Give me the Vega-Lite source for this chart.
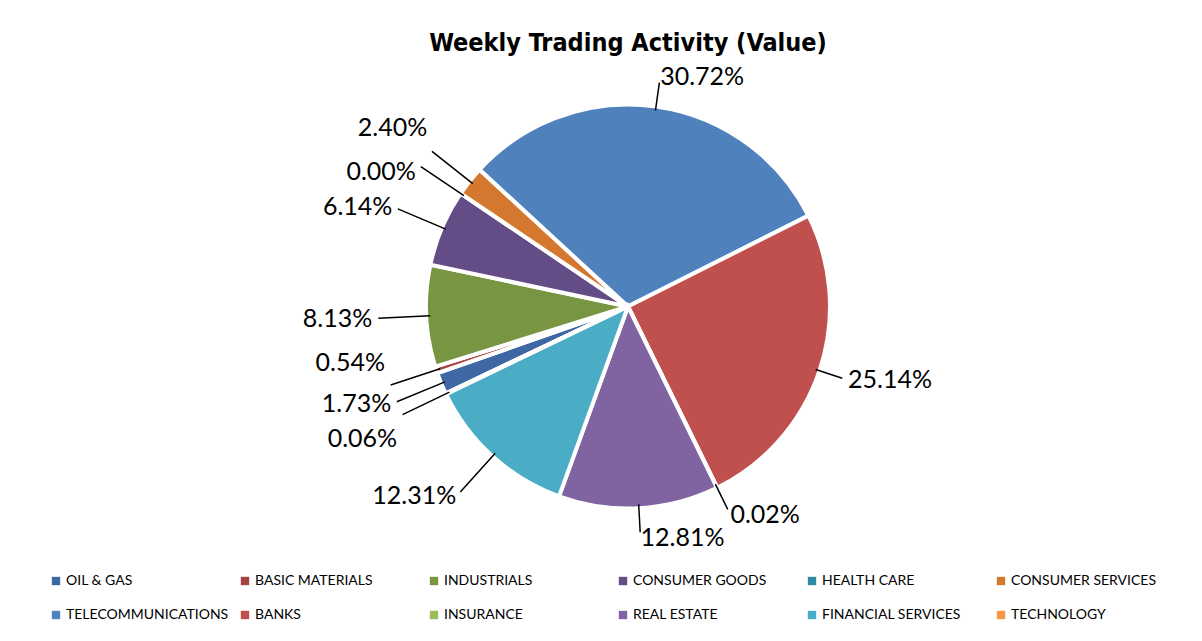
{
  "$schema": "https://vega.github.io/schema/vega-lite/v6.json",
  "width": 1202,
  "height": 641,
  "autosize": {"type": "fit", "contains": "padding"},
  "padding": {"top": 31, "left": 49, "right": -5, "bottom": 19},
  "background": "white",
  "title": {
    "text": "Weekly Trading Activity (Value)",
    "font": "DejaVu Sans Condensed, Liberation Sans, sans-serif",
    "fontSize": 25,
    "fontWeight": "bold",
    "color": "#000000",
    "anchor": "middle",
    "offset": 1
  },
  "data": {
    "values": [
      {"idx": 1, "sector": "OIL & GAS", "share": 0.0173},
      {"idx": 2, "sector": "BASIC MATERIALS", "share": 0.0054},
      {"idx": 3, "sector": "INDUSTRIALS", "share": 0.0813},
      {"idx": 4, "sector": "CONSUMER GOODS", "share": 0.0614},
      {"idx": 5, "sector": "HEALTH CARE", "share": 0.0},
      {"idx": 6, "sector": "CONSUMER SERVICES", "share": 0.024},
      {"idx": 7, "sector": "TELECOMMUNICATIONS", "share": 0.3072},
      {"idx": 8, "sector": "BANKS", "share": 0.2514},
      {"idx": 9, "sector": "INSURANCE", "share": 0.0002},
      {"idx": 10, "sector": "REAL ESTATE", "share": 0.1281},
      {"idx": 11, "sector": "FINANCIAL SERVICES", "share": 0.1231},
      {"idx": 12, "sector": "TECHNOLOGY", "share": 0.0006}
    ]
  },
  "encoding": {
    "theta": {
      "field": "share",
      "type": "quantitative",
      "stack": true,
      "scale": {"range": [4.2673, 10.5505]}
    },
    "order": {"field": "idx", "type": "quantitative"}
  },
  "layer": [
    {
      "mark": {"type": "arc", "outerRadius": 202, "stroke": "white", "strokeWidth": 4},
      "encoding": {
        "color": {
          "field": "sector",
          "type": "nominal",
          "scale": {
            "domain": ["OIL & GAS", "BASIC MATERIALS", "INDUSTRIALS", "CONSUMER GOODS", "HEALTH CARE", "CONSUMER SERVICES", "TELECOMMUNICATIONS", "BANKS", "INSURANCE", "REAL ESTATE", "FINANCIAL SERVICES", "TECHNOLOGY"],
            "range": ["#3D68A3", "#A6423F", "#789541", "#644C87", "#2F8BA5", "#D4782F", "#4F81BD", "#C0504D", "#9BBB59", "#8064A2", "#4BACC6", "#F79646"]
          },
          "legend": {
            "title": null,
            "orient": "bottom",
            "direction": "horizontal",
            "columns": 6,
            "gridAlign": "all",
            "symbolType": "square",
            "symbolSize": 70,
            "symbolStrokeWidth": 0,
            "labelFont": "Lato",
            "labelFontSize": 14,
            "labelColor": "#000000",
            "labelOffset": 3,
            "labelLimit": 300,
            "columnPadding": 9,
            "rowPadding": 20,
            "offset": 18
          }
        }
      }
    },
    {
      "mark": {
        "type": "arc",
        "innerRadius": 198,
        "outerRadius": {"expr": "indexof(['TELECOMMUNICATIONS','BANKS','INSURANCE','REAL ESTATE'], datum.sector) >= 0 ? 226 : 250"},
        "padAngle": 3,
        "filled": false,
        "stroke": "black",
        "strokeWidth": 1.5
      },
      "encoding": {"color": {"value": "black"}}
    },
    {
      "mark": {
        "type": "text",
        "radius": {"expr": "indexof(['TELECOMMUNICATIONS','BANKS','INSURANCE','REAL ESTATE'], datum.sector) >= 0 ? 232 : 256"},
        "align": {"expr": "indexof(['TELECOMMUNICATIONS','BANKS','INSURANCE','REAL ESTATE'], datum.sector) >= 0 ? 'left' : 'right'"},
        "dy": {"expr": "datum.sector == 'BASIC MATERIALS' ? -24 : datum.sector == 'TECHNOLOGY' ? 22 : datum.sector == 'HEALTH CARE' ? 9 : datum.sector == 'CONSUMER SERVICES' ? -20 : 0"},
        "baseline": "middle",
        "font": "Lato",
        "fontSize": 25
      },
      "encoding": {
        "text": {"field": "share", "type": "quantitative", "format": ".2%"},
        "color": {"value": "black"}
      }
    }
  ],
  "config": {
    "view": {"stroke": null}
  }
}
